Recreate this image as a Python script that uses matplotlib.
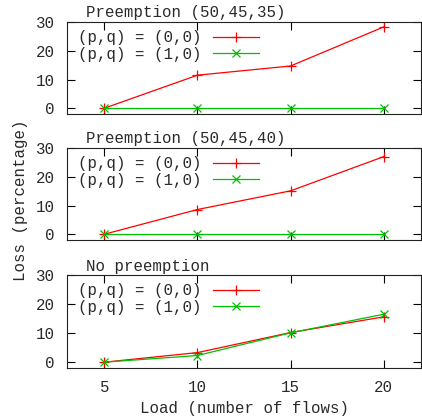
import matplotlib
matplotlib.use("Agg")
import matplotlib.pyplot as plt

loads = [5, 10, 15, 20]
titles = ["Preemption (50,45,35)", "Preemption (50,45,40)", "No preemption"]
loss_00 = [
    [0.0, 11.5, 14.7, 28.3],
    [0.0, 8.6, 15.1, 27.0],
    [0.0, 3.3, 10.2, 15.6],
]
loss_10 = [
    [0.0, 0.0, 0.0, 0.0],
    [0.0, 0.0, 0.0, 0.0],
    [0.0, 2.3, 10.1, 16.5],
]
series_labels = ["(p,q) = (0,0)", "(p,q) = (1,0)"]
yticks = [0, 10, 20, 30]
xticks = [5, 10, 15, 20]
ylabel = "Loss (percentage)"
xlabel = "Load (number of flows)"

W, H = 422, 418
fig = plt.figure(figsize=(W / 100, H / 100), dpi=100)
FONT = ["Liberation Mono", "DejaVu Sans Mono"]
FS = 11.3
TXT = "#2a2a2a"

# (top, bottom) pixel rows for each panel
panels_px = [(22, 114), (148, 240), (275, 368)]
left_px, right_px = 67, 421

for i, (top, bot) in enumerate(panels_px):
    ax = fig.add_axes([left_px / W, 1 - bot / H, (right_px - left_px) / W, (bot - top) / H])
    ax.plot(loads, loss_00[i], color="#ff0000", lw=0.9, marker="+", ms=7.5, mew=0.9,
            label=series_labels[0])
    ax.plot(loads, loss_10[i], color="#00c000", lw=0.9, marker="x", ms=5.5, mew=0.9,
            label=series_labels[1])
    ax.set_xlim(3, 22)
    ax.set_ylim(-2, 30)
    ax.set_yticks(yticks)
    ax.set_xticks(xticks)
    ax.tick_params(direction="in", length=6, width=0.8, top=True, right=True,
                   colors="black", labelcolor=TXT, labelsize=FS)
    ax.tick_params(axis="y", pad=9)
    ax.tick_params(axis="x", pad=9)
    for lab in ax.get_yticklabels() + ax.get_xticklabels():
        lab.set_fontfamily(FONT)
    if i < 2:
        ax.tick_params(labelbottom=False)
    for s in ax.spines.values():
        s.set_linewidth(0.8)
        s.set_color("#222222")
    ax.text(19 / (right_px - left_px), 1.0 + 4.5 / (bot - top), titles[i],
            transform=ax.transAxes, ha="left", va="baseline",
            fontfamily=FONT, fontsize=FS, color=TXT)
    leg = ax.legend(loc="upper left", bbox_to_anchor=(0.0, 1.03), frameon=False,
                    markerfirst=False, handlelength=2.9, handletextpad=0.75,
                    labelspacing=0.1, borderaxespad=0.3,
                    prop={"family": FONT, "size": FS})
    for t in leg.get_texts():
        t.set_color(TXT)
    if i == 2:
        ax.set_xlabel(xlabel, fontfamily=FONT, fontsize=FS, color=TXT, labelpad=4)

fig.text(21 / W, 1 - 200 / H, ylabel, rotation=90, ha="center", va="center",
         fontfamily=FONT, fontsize=FS, color=TXT)

fig.savefig("out.png", dpi=100)
